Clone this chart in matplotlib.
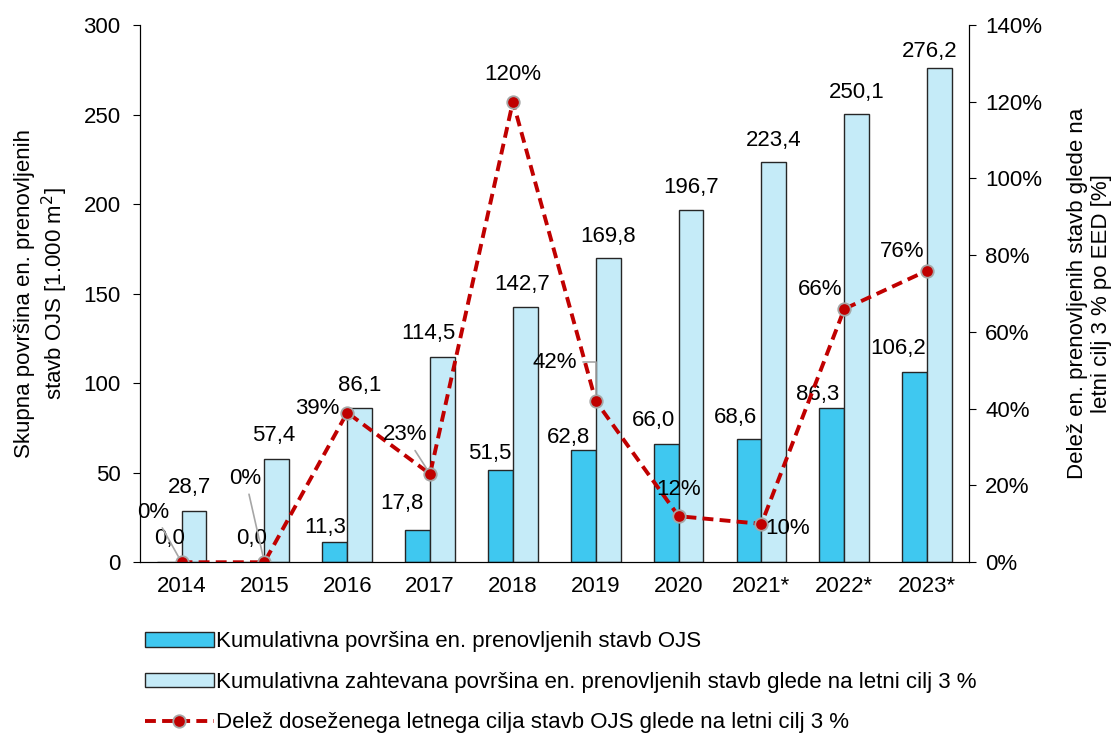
import numpy as np
import matplotlib.pyplot as plt
import matplotlib

matplotlib.rcParams['font.family'] = ['Liberation Sans', 'DejaVu Sans']
matplotlib.rcParams['font.size'] = 16

leta = ["2014", "2015", "2016", "2017", "2018", "2019", "2020", "2021*", "2022*", "2023*"]
kumulativna = [0.0, 0.0, 11.3, 17.8, 51.5, 62.8, 66.0, 68.6, 86.3, 106.2]
zahtevana = [28.7, 57.4, 86.1, 114.5, 142.7, 169.8, 196.7, 223.4, 250.1, 276.2]
delez = [0, 0, 39, 23, 120, 42, 12, 10, 66, 76]

# odmiki oznak (v pikslih: x, y navzgor)
odmiki_kum = [(0, 24), (0, 24), (-10, 15), (-16, 27), (-11, 17), (-15, 12), (-13, 24), (-14, 22), (-14, 13), (-17, 24)]
odmiki_zaht = [(-4, 23), (-3, 24), (0, 23), (-14, 24), (-3, 22), (0, 22), (0, 22), (0, 22), (0, 22), (-10, 16)]
odmiki_delez = [(-28, 50), (-19, 84), (-30, 4), (-25, 39), (0, 27), (-41, 39), (0, 27), (26, -5), (-24, 19), (-25, 19)]
s_crto = [0, 1, 3, 5]

PX = 72 / 100  # piksli -> točke

fig, ax = plt.subplots(figsize=(11.12, 7.34), dpi=100)
fig.subplots_adjust(left=0.126, right=0.871, top=0.966, bottom=0.234)

x = np.arange(len(leta))
w = 0.3
b1 = ax.bar(x - w / 2, kumulativna, w, color="#3fc8f0", edgecolor="#262626", linewidth=1,
            label="Kumulativna površina en. prenovljenih stavb OJS")
b2 = ax.bar(x + w / 2, zahtevana, w, color="#c5ebf8", edgecolor="#262626", linewidth=1,
            label="Kumulativna zahtevana površina en. prenovljenih stavb glede na letni cilj 3 %")

for i, v in enumerate(kumulativna):
    dx, dy = odmiki_kum[i]
    ax.annotate(f"{v:.1f}".replace(".", ","), xy=(x[i] - w / 2, v), xytext=(dx * PX, dy * PX),
                textcoords="offset points", ha="center", va="center")
for i, v in enumerate(zahtevana):
    dx, dy = odmiki_zaht[i]
    ax.annotate(f"{v:.1f}".replace(".", ","), xy=(x[i] + w / 2, v), xytext=(dx * PX, dy * PX),
                textcoords="offset points", ha="center", va="center")

ax.set_ylim(0, 300)
ax.set_yticks(np.arange(0, 301, 50))
ax.set_xlim(-0.5, len(leta) - 0.5)
ax.set_xticks(x)
ax.set_xticklabels(leta)
ax.tick_params(axis="y", length=5, pad=9)
ax.tick_params(axis="x", length=0, pad=10)
ax.spines["top"].set_visible(False)
ax.set_ylabel("Skupna površina en. prenovljenih\nstavb OJS [1.000 m$^2$]", labelpad=10)

ax2 = ax.twinx()
ln, = ax2.plot(x, delez, color="#c00000", linestyle="--", linewidth=2.8, dashes=(2.8, 1.6),
               marker="o", markersize=9, markerfacecolor="#c00000", markeredgecolor="#a6a6a6",
               markeredgewidth=1.3,
               label="Delež doseženega letnega cilja stavb OJS glede na letni cilj 3 %")
ax2.set_ylim(0, 140)
ax2.set_yticks(np.arange(0, 141, 20))
ax2.set_yticklabels([f"{t}%" for t in range(0, 141, 20)])
ax2.tick_params(axis="y", length=5, pad=7)
ax2.spines["top"].set_visible(False)
ax2.set_ylabel("Delež en. prenovljenih stavb glede na\nletni cilj 3 % po EED [%]", labelpad=18)

for i, v in enumerate(delez):
    dx, dy = odmiki_delez[i]
    if i in s_crto:
        conn = "angle,angleA=0,angleB=90,rad=0" if i == 5 else "arc3"
        ax2.annotate(f"{v}%", xy=(x[i], v), xytext=(dx * PX, dy * PX),
                     textcoords="offset points", ha="center", va="center",
                     arrowprops=dict(arrowstyle="-", color="#a6a6a6", lw=1.2,
                                     shrinkA=2, shrinkB=5, connectionstyle=conn))
    else:
        ax2.annotate(f"{v}%", xy=(x[i], v), xytext=(dx * PX, dy * PX), textcoords="offset points",
                     ha="center", va="center")

ax2.set_zorder(ax.get_zorder() + 1)
ax2.patch.set_visible(False)

handles = [b1, b2, ln]
fig.legend(handles, [h.get_label() for h in handles], loc="upper left",
           bbox_to_anchor=(0.1223, 0.152), borderaxespad=0, frameon=False,
           handlelength=3.1, handleheight=0.6, labelspacing=0.88, handletextpad=0.12)

plt.savefig("out.png", dpi=100)
plt.close()
